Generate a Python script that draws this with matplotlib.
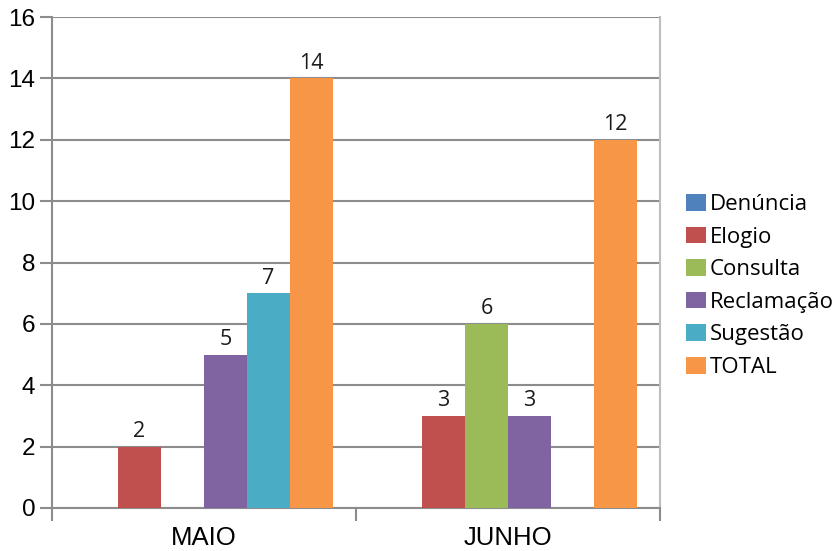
import matplotlib.pyplot as plt
import numpy as np
from matplotlib.patches import Patch
from matplotlib.ticker import FixedLocator, MultipleLocator

# Monthly counts per manifestation type
months = ["MAIO", "JUNHO"]
series_names = ["Denúncia", "Elogio", "Consulta", "Reclamação", "Sugestão", "TOTAL"]
denuncia = [0, 0]
elogio = [2, 3]
consulta = [0, 6]
reclamacao = [5, 3]
sugestao = [7, 0]
total = [14, 12]

COLORS = ["#4F81BD", "#C0504D", "#9BBB59", "#8064A2", "#4BACC6", "#F79646"]
AXIS_GREY = "#8C8C8C"
LABEL_FONT = ["Open Sans", "DejaVu Sans"]

plt.rcParams["font.family"] = ["Liberation Sans", "DejaVu Sans"]

fig = plt.figure(figsize=(8.4, 5.51), dpi=100)
ax = fig.add_axes([52 / 840, 43 / 551, 608 / 840, 491 / 551])

values = [denuncia, elogio, consulta, reclamacao, sugestao, total]
x = np.arange(len(months))
width = 0.1414

for i, (name, vals, color) in enumerate(zip(series_names, values, COLORS)):
    pos = x + (i - 2.5) * width
    bars = ax.bar(pos, vals, width=width, color=color, label=name, zorder=3)
    for bar, v in zip(bars, vals):
        if v:
            ax.text(bar.get_x() + bar.get_width() / 2, v + 0.15, str(v),
                    ha="center", va="bottom", fontsize=15.5,
                    family=LABEL_FONT, color="#1a1a1a", zorder=4)

ax.set_xlim(-0.5, 1.5)
ax.set_ylim(0, 16)
ax.yaxis.set_major_locator(MultipleLocator(2))
ax.yaxis.grid(True, color=AXIS_GREY, linewidth=1.5, zorder=0)
ax.set_axisbelow(True)

ax.set_xticks(x)
ax.set_xticklabels(months, fontsize=18.5)
ax.xaxis.set_minor_locator(FixedLocator([-0.5, 0.5, 1.5]))
ax.tick_params(axis="x", which="major", length=0, pad=13)
ax.tick_params(axis="x", which="minor", length=9, width=1.5, color=AXIS_GREY)
ax.tick_params(axis="y", length=9, width=1.5, color=AXIS_GREY, labelsize=17.5, pad=3)

ax.spines["top"].set_visible(False)
ax.spines["left"].set_color(AXIS_GREY)
ax.spines["left"].set_linewidth(1.5)
ax.spines["bottom"].set_color(AXIS_GREY)
ax.spines["bottom"].set_linewidth(1.5)
ax.spines["right"].set_color("#BDBDBD")
ax.spines["right"].set_linewidth(1.5)

handles = [Patch(facecolor=c, edgecolor="none") for c in COLORS]
fig.legend(handles, series_names, loc="center left",
           bbox_to_anchor=(686 / 840, 1 - 286 / 551), frameon=False,
           prop={"family": LABEL_FONT, "size": 16},
           handlelength=0.9, handleheight=0.77, handletextpad=0.18,
           labelspacing=0.52, borderpad=0, borderaxespad=0)

fig.savefig("out.png", dpi=100)
